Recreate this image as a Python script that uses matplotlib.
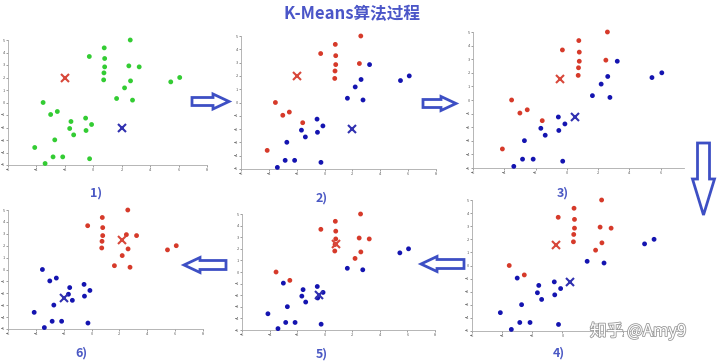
import matplotlib
matplotlib.use("Agg")
import matplotlib.pyplot as plt
from matplotlib.patches import Polygon
import matplotlib.patheffects as pe

plt.rcParams['font.family'] = ['Noto Sans CJK SC', 'DejaVu Sans']

# 30 sample points (same for every step)
xs = [2.6, 0.77, -0.28, 0.8, 0.8, 2.5, 3.23, 0.75, 0.73, 2.62,
      5.45, 6.08, 2.2, 1.64, 2.76, -3.53, -3.0, -2.53, -1.57, -0.54,
      -0.12, -1.66, -0.51, -1.38, -2.71, -4.12, -2.83, -2.15, -0.26, -3.39]
ys = [5.0, 4.37, 3.68, 3.52, 2.85, 2.93, 2.85, 2.37, 1.81, 1.73,
      1.65, 2.0, 1.17, 0.32, 0.19, 0.0, -0.96, -0.72, -1.52, -1.25,
      -1.76, -2.08, -2.24, -2.59, -2.99, -3.6, -4.35, -4.35, -4.5, -4.88]

# cluster labels (1 = red, 0 = blue); None = not assigned yet
lab_23 = [1, 1, 1, 1, 1, 1, 0, 1, 1, 0, 0, 0, 0, 0, 0,
          1, 1, 1, 1, 0, 0, 0, 0, 0, 0, 1, 0, 0, 0, 0]
lab_45 = [1, 1, 1, 1, 1, 1, 1, 1, 1, 1, 0, 0, 1, 0, 0,
          1, 0, 1, 0, 0, 0, 0, 0, 0, 0, 0, 0, 0, 0, 0]
lab_6 = [1] * 15 + [0] * 15

# centroids: (red_x, red_y, blue_x, blue_y)
cent_1 = (-2.0, 2.0, 2.0, -2.0)
cent_3 = (-0.45, 1.55, 0.51, -1.23)
cent_5 = (0.84, 2.45, -0.45, -1.95)
cent_6 = (2.19, 2.46, -1.95, -2.4)

steps = ["1)", "2)", "3)", "4)", "5)", "6)"]

W, H = 720, 364
fig = plt.figure(figsize=(W / 100, H / 100), dpi=100)
fig.patch.set_facecolor('white')

RED = '#d63a2a'
BLUE = '#1414b0'
GREEN = '#33cc33'
LBL = '#4a58c4'


def rect(x0, x1, yt, yb):
    return [x0 / W, 1 - yb / H, (x1 - x0) / W, (yb - yt) / H]


def panel(r, labels, cent, xmax=8):
    ax = fig.add_axes(r)
    if labels is None:
        cols = [GREEN] * len(xs)
    else:
        cols = [RED if l else BLUE for l in labels]
    ax.scatter(xs, ys, c=cols, s=12, linewidths=0, zorder=3, clip_on=False)
    ax.plot(cent[0], cent[1], 'x', color='#d8473a', ms=6, mew=1.5, zorder=4)
    ax.plot(cent[2], cent[3], 'x', color='#3030b0', ms=6, mew=1.5, zorder=4)
    ax.set_xlim(-6, xmax)
    ax.set_ylim(-5, 5)
    ax.set_xticks([t for t in range(-6, 9, 2) if t <= xmax])
    ax.set_yticks(range(-5, 6))
    ax.tick_params(labelsize=2.8, length=1.2, width=0.4, pad=0.8, colors='#555555')
    for s in ['top', 'right']:
        ax.spines[s].set_visible(False)
    for s in ['left', 'bottom']:
        ax.spines[s].set_color('#aaaaaa')
        ax.spines[s].set_linewidth(0.6)
    ax.patch.set_alpha(0)
    return ax


panel(rect(8, 207, 40, 165), None, cent_1)
panel(rect(241, 436, 36, 169), lab_23, cent_1)
panel(rect(473, 684, 32, 168), lab_23, cent_3, xmax=7.5)
panel(rect(472, 683, 200, 331), lab_45, cent_3)
panel(rect(242, 435, 214, 330), lab_45, cent_5)
panel(rect(8, 203, 210, 329), lab_6, cent_6)

# overlay in pixel coordinates for arrows and text
ov = fig.add_axes([0, 0, 1, 1])
ov.set_xlim(0, W)
ov.set_ylim(H, 0)
ov.axis('off')
ov.patch.set_alpha(0)


def h_arrow(x0, x1, yc, sh, hh, hl):
    # tail at x0, head at x1
    d = 1 if x1 > x0 else -1
    xb = x1 - d * hl
    pts = [(x0, yc - sh), (xb, yc - sh), (xb, yc - hh), (x1, yc),
           (xb, yc + hh), (xb, yc + sh), (x0, yc + sh)]
    ov.add_patch(Polygon(pts, closed=True, fc='white', ec='#3d4fc4', lw=2))


def v_arrow(xc, y0, y1, sh, hh, hl):
    yb = y1 - hl
    pts = [(xc - sh, y0), (xc - sh, yb), (xc - hh, yb), (xc, y1),
           (xc + hh, yb), (xc + sh, yb), (xc + sh, y0)]
    ov.add_patch(Polygon(pts, closed=True, fc='white', ec='#3d4fc4', lw=2))


h_arrow(192, 229, 101.5, 4, 7.5, 16)
h_arrow(423, 456, 103.5, 4, 7, 15)
v_arrow(703.5, 143, 215, 6, 11, 36)
h_arrow(464, 421, 264, 4.5, 7.5, 16)
h_arrow(226, 184, 265, 4.5, 7.5, 16)

ov.text(352, 14, "K-Means算法过程", ha='center', va='center', fontsize=12,
        fontweight='bold', color='#4b56c8')

lab_pos = [(96, 193), (322, 198), (563, 193), (559, 353), (322, 354), (81, 353)]
for s, (px, py) in zip(steps, lab_pos):
    ov.text(px, py, s, ha='center', va='center', fontsize=9,
            fontweight='bold', color=LBL)

ov.text(638, 331, "知乎 @Amy9", ha='center', va='center', fontsize=12,
        color='white',
        path_effects=[pe.Stroke(linewidth=1.2, foreground='#999999'), pe.Normal()])

fig.savefig("out.png", dpi=100)
